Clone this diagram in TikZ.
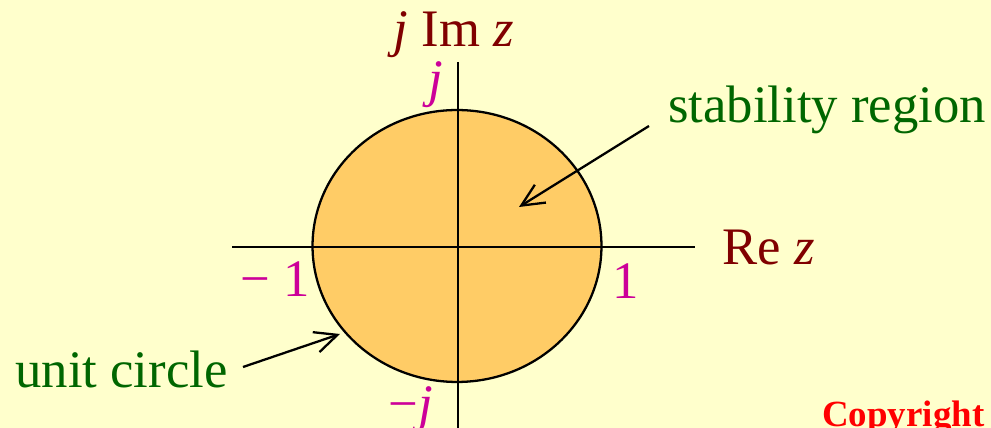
\documentclass[tikz,border=0pt]{standalone}
\usepackage{fontspec}
\setmainfont{Liberation Serif}
\usepackage{xcolor}
\usetikzlibrary{arrows.meta}
\definecolor{zBack}{HTML}{FFFFCC}
\definecolor{zFill}{HTML}{FFCC66}
\definecolor{zAxis}{HTML}{800000}
\definecolor{zMark}{HTML}{CC0099}
\definecolor{zNote}{HTML}{006600}
\definecolor{zCopy}{HTML}{FF0000}
\tikzset{
  axislabel/.style={text=zAxis,font=\fontsize{30}{36}\selectfont,inner sep=0pt},
  marklabel/.style={text=zMark,font=\fontsize{30}{36}\selectfont,inner sep=0pt},
  notelabel/.style={text=zNote,font=\fontsize{30}{36}\selectfont,inner sep=0pt},
  copylabel/.style={text=zCopy,font=\fontsize{21}{25}\selectfont\bfseries,inner sep=0pt},
  axisline/.style={line width=1.1pt},
  pointer/.style={-{Straight Barb[length=0.45cm,width=0.42cm,line width=1.3pt]},line width=1.3pt}
}

\begin{document}
\begin{tikzpicture}[x=0.02cm,y=-0.02cm]
\fill[zBack] (0,0) rectangle (991,428);
\useasboundingbox (0,0) rectangle (991,428);

% unit circle
\coordinate (origin) at (457,246);
\filldraw[fill=zFill,draw=black,line width=1.3pt] (origin) ellipse [x radius=2.89cm,y radius=2.72cm];

% axes
\coordinate (reL) at (232,247);
\coordinate (reR) at (695,247);
\coordinate (imT) at (458,62);
\coordinate (imB) at (458,430);
\draw[axisline] (reL) -- (reR);
\draw[axisline] (imT) -- (imB);

\node[axislabel,anchor=base] (imlab) at (454,47) {\textit{j} Im \textit{z}};
\node[axislabel,anchor=base west] (relab) at (722,265) {Re \textit{z}};
\node[marklabel,anchor=base] (jtop) at (436,97) {\textit{j}};
\node[marklabel,anchor=base west] (jbot) at (388,422) {−\textit{j}};
\node[marklabel,anchor=base west] (mone) at (240,297) {− 1};
\node[marklabel,anchor=base west] (pone) at (612,299) {1};

\node[notelabel,anchor=base west] (stab) at (668,123) {stability region};
\node[notelabel,anchor=base west] (unit) at (15,388) {unit circle};
\node[copylabel,anchor=base west] (copy) at (822,427) {Copyright};

% pointers
\coordinate (stabS) at (649,126);
\coordinate (stabE) at (519,207);
\coordinate (unitS) at (243,367);
\coordinate (unitE) at (340,334);
\draw[pointer] (stabS) -- (stabE);
\draw[pointer] (unitS) -- (unitE);
\end{tikzpicture}
\end{document}
